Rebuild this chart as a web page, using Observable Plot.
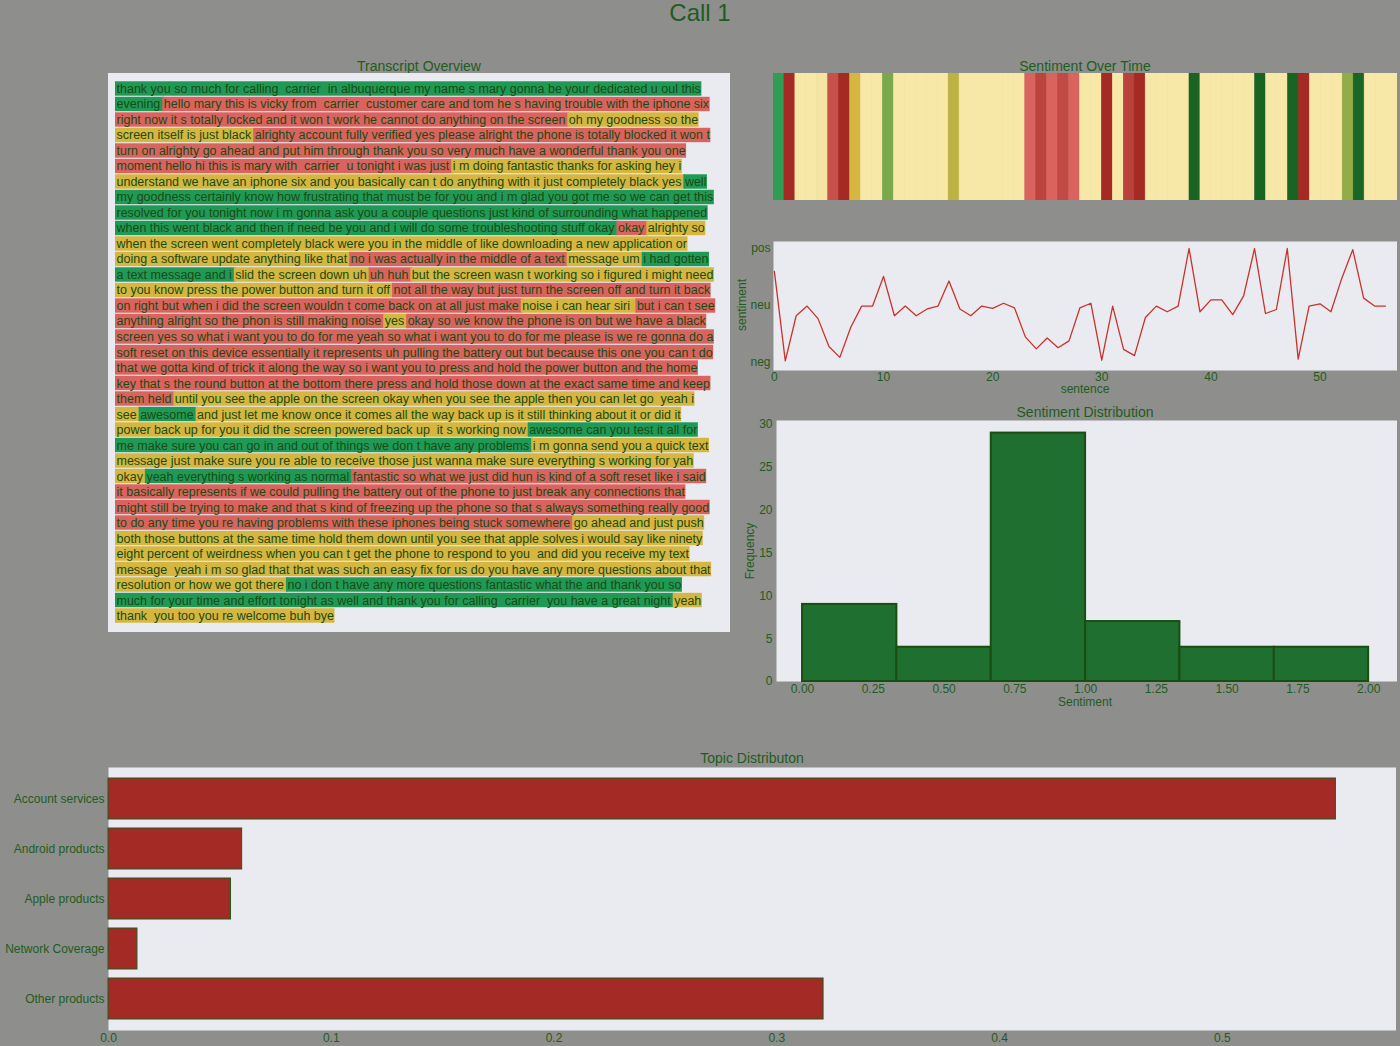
<!DOCTYPE html>
<html><head><meta charset="utf-8">
<script src="https://cdn.jsdelivr.net/npm/d3@7"></script>
<script src="https://cdn.jsdelivr.net/npm/@observablehq/plot@0.6"></script>
<style>
body{margin:0;background:#8e8e8c;width:1400px;height:1046px;position:relative;overflow:hidden;font-family:"Liberation Sans",Arial,sans-serif;}
.panel{position:absolute;}
.lbl{position:absolute;color:#1f5c1f;white-space:nowrap;transform:translate(-50%,-50%);font-family:"Liberation Sans",Arial,sans-serif;}
svg text{white-space:pre;}
</style></head><body>
<script>
// ---------------- data ----------------
const pageTitle = "Call 1";
const panelTitles = ["Transcript Overview", "Sentiment Over Time", "Sentiment Distribution", "Topic Distributon"];

// transcript lines: each line is a list of [sentiment, text] segments (g = positive, y = neutral, r = negative)
const transcriptLines = [
  [["g","thank you so much for calling  carrier  in albuquerque my name s mary gonna be your dedicated u oul this"]],
  [["g","evening "],["r","hello mary this is vicky from  carrier  customer care and tom he s having trouble with the iphone six"]],
  [["r","right now it s totally locked and it won t work he cannot do anything on the screen "],["y","oh my goodness so the"]],
  [["y","screen itself is just black "],["r","alrighty account fully verified yes please alright the phone is totally blocked it won t"]],
  [["r","turn on alrighty go ahead and put him through thank you so very much have a wonderful thank you one"]],
  [["r","moment hello hi this is mary with  carrier  u tonight i was just "],["y","i m doing fantastic thanks for asking hey i"]],
  [["y","understand we have an iphone six and you basically can t do anything with it just completely black yes "],["g","well"]],
  [["g","my goodness certainly know how frustrating that must be for you and i m glad you got me so we can get this"]],
  [["g","resolved for you tonight now i m gonna ask you a couple questions just kind of surrounding what happened"]],
  [["g","when this went black and then if need be you and i will do some troubleshooting stuff okay "],["r","okay "],["y","alrighty so"]],
  [["y","when the screen went completely black were you in the middle of like downloading a new application or"]],
  [["y","doing a software update anything like that "],["r","no i was actually in the middle of a text "],["y","message um "],["g","i had gotten"]],
  [["g","a text message and i "],["y","slid the screen down uh "],["r","uh huh "],["y","but the screen wasn t working so i figured i might need"]],
  [["y","to you know press the power button and turn it off "],["r","not all the way but just turn the screen off and turn it back"]],
  [["r","on right but when i did the screen wouldn t come back on at all just make "],["y","noise i can hear siri  "],["r","but i can t see"]],
  [["r","anything alright so the phon is still making noise "],["y","yes "],["r","okay so we know the phone is on but we have a black"]],
  [["r","screen yes so what i want you to do for me yeah so what i want you to do for me please is we re gonna do a"]],
  [["r","soft reset on this device essentially it represents uh pulling the battery out but because this one you can t do"]],
  [["r","that we gotta kind of trick it along the way so i want you to press and hold the power button and the home"]],
  [["r","key that s the round button at the bottom there press and hold those down at the exact same time and keep"]],
  [["r","them held "],["y","until you see the apple on the screen okay when you see the apple then you can let go  yeah i"]],
  [["y","see "],["g","awesome "],["y","and just let me know once it comes all the way back up is it still thinking about it or did it"]],
  [["y","power back up for you it did the screen powered back up  it s working now "],["g","awesome can you test it all for"]],
  [["g","me make sure you can go in and out of things we don t have any problems "],["y","i m gonna send you a quick text"]],
  [["y","message just make sure you re able to receive those just wanna make sure everything s working for yah"]],
  [["y","okay "],["g","yeah everything s working as normal "],["r","fantastic so what we just did hun is kind of a soft reset like i said"]],
  [["r","it basically represents if we could pulling the battery out of the phone to just break any connections that"]],
  [["r","might still be trying to make and that s kind of freezing up the phone so that s always something really good"]],
  [["r","to do any time you re having problems with these iphones being stuck somewhere "],["y","go ahead and just push"]],
  [["y","both those buttons at the same time hold them down until you see that apple solves i would say like ninety"]],
  [["y","eight percent of weirdness when you can t get the phone to respond to you  and did you receive my text"]],
  [["y","message  yeah i m so glad that that was such an easy fix for us do you have any more questions about that"]],
  [["y","resolution or how we got there "],["g","no i don t have any more questions fantastic what the and thank you so"]],
  [["g","much for your time and effort tonight as well and thank you for calling  carrier  you have a great night "],["y","yeah"]],
  [["y","thank  you too you re welcome buh bye"]]
];

// sentiment per sentence (0 = neg, 1 = neu, 2 = pos)
const sentimentValues = [1.6,0.03,0.82,0.99,0.77,0.28,0.09,0.62,0.99,0.99,
  1.51,0.82,0.99,0.82,0.94,0.99,1.43,0.94,0.82,0.99,
  0.95,1.04,0.96,0.45,0.24,0.43,0.26,0.38,0.96,1.04,
  0.04,0.99,0.23,0.12,0.79,0.99,0.89,0.99,2.0,0.89,
  1.10,1.10,0.84,1.17,2.0,0.86,0.93,2.0,0.06,0.99,
  1.03,0.89,1.48,1.98,1.13,0.99,0.99];
const sentimentTickLabels = ["neg","neu","pos"];
const sentenceTicks = [0,10,20,30,40,50];

// histogram of sentiment
const histEdges = [0, 0.3333, 0.6667, 1.0, 1.3333, 1.6667, 2.0];
const histCounts = [9, 4, 29, 7, 4, 4];
const histXTicks = [0,0.25,0.5,0.75,1,1.25,1.5,1.75,2];
const histYTicks = [0,5,10,15,20,25,30];

// topic distribution
const topics = ["Account services","Android products","Apple products","Network Coverage","Other products"];
const topicShares = [0.551, 0.060, 0.055, 0.013, 0.321];
const topicTicks = [0,0.1,0.2,0.3,0.4,0.5];

// ---------------- styles ----------------
const FONT = '"Liberation Sans", Arial, sans-serif';
const TXT = "#1f5c1f";
const PANEL = "#eaebf0";
const segColor = {g:"#1f9a56", r:"#d9645f", y:"#d4b640"};
const stripStops = [0,0.15,0.35,0.47,0.62,0.78,1.25,1.4,1.62,1.95];
const stripColors = ["#a52a24","#a52a24","#d9645f","#d9645f","#d4b640","#f8e8a8","#f8e8a8","#d4b640","#1f9a56","#1a6a2a"];

function place(node, left, top){
  const d = document.createElement("div");
  d.className = "panel"; d.style.left = left+"px"; d.style.top = top+"px";
  d.appendChild(node); document.body.appendChild(d);
}
function label(text, cx, cy, size, rotate){
  const d = document.createElement("div");
  d.className = "lbl"; d.textContent = text;
  d.style.left = cx+"px"; d.style.top = cy+"px"; d.style.fontSize = size+"px";
  if (rotate) d.style.transform = "translate(-50%,-50%) rotate(-90deg)";
  document.body.appendChild(d);
}

// titles
label(pageTitle, 700, 13, 24);
label(panelTitles[0], 419, 66, 14);
label(panelTitles[1], 1085, 66, 14);
label(panelTitles[2], 1085, 412, 14);
label(panelTitles[3], 752, 758, 14);

// ---------------- transcript ----------------
const FS = 12.5;
const ctx = document.createElement("canvas").getContext("2d");
ctx.font = `${FS}px "Liberation Sans"`;
const segs = [];
transcriptLines.forEach((line, i) => {
  let x = 0;
  line.forEach(([s, text]) => {
    const w = ctx.measureText(text).width;
    segs.push({line: i, s, text, x1: x, x2: x + w});
    x += w;
  });
});
place(Plot.plot({
  width: 622, height: 559, marginLeft: 8, marginRight: 0, marginTop: 7.2, marginBottom: 8.2,
  style: {background: PANEL, fontFamily: FONT},
  x: {domain: [0, 614], axis: null},
  y: {type: "band", domain: d3.range(transcriptLines.length), padding: 0.07, round: false, axis: null},
  marks: [
    Plot.barX(segs, {x1: d => d.x1 - 1, x2: d => d.x2 + 1, y: "line", fill: d => segColor[d.s]}),
    Plot.text(segs, {x: "x1", y: "line", text: "text", textAnchor: "start", fill: "#1b4a12", fontSize: FS, fontFamily: FONT})
  ]
}), 108, 73);

// ---------------- sentiment strip ----------------
place(Plot.plot({
  width: 624, height: 127, margin: 0,
  style: {background: "transparent"},
  x: {type: "band", domain: d3.range(sentimentValues.length), padding: 0, round: false, axis: null},
  color: {type: "linear", domain: stripStops, range: stripColors, interpolate: "rgb"},
  marks: [
    Plot.cell(sentimentValues, {x: (d, i) => i, fill: d => d, stroke: d => d, strokeWidth: 0.6, inset: 0})
  ]
}), 773, 73);

// ---------------- sentiment line ----------------
place(Plot.plot({
  width: 662, height: 164, marginLeft: 38, marginRight: 0, marginTop: 5, marginBottom: 30,
  style: {background: "transparent", fontFamily: FONT, fontSize: "12px", color: TXT},
  x: {domain: [-0.08, 57.1], ticks: sentenceTicks, tickSize: 0, tickPadding: 2, label: null},
  y: {domain: [-0.14, 2.123], ticks: [0,1,2], tickFormat: d => sentimentTickLabels[d], tickSize: 0, tickPadding: 3, label: null},
  marks: [
    Plot.frame({fill: PANEL, stroke: null}),
    Plot.line(sentimentValues, {x: (d, i) => i, y: d => d, stroke: "#c9322a", strokeWidth: 1.3})
  ]
}), 735, 236);
label("sentence", 1085, 389, 12);
label("sentiment", 742, 305, 12, true);

// ---------------- histogram ----------------
const histBins = histCounts.map((c, i) => ({x1: histEdges[i], x2: histEdges[i+1], count: c}));
place(Plot.plot({
  width: 657, height: 300, marginLeft: 36, marginRight: 0, marginTop: 5, marginBottom: 34,
  style: {background: "transparent", fontFamily: FONT, fontSize: "12px", color: TXT},
  x: {domain: [-0.092, 2.102], ticks: histXTicks, tickFormat: ".2f", tickSize: 0, tickPadding: 3, label: null},
  y: {domain: [0, 30.47], ticks: histYTicks, tickSize: 0, tickPadding: 4, label: null},
  marks: [
    Plot.frame({fill: PANEL, stroke: null}),
    Plot.rectY(histBins, {x1: "x1", x2: "x2", y: "count", fill: "#1f7030", stroke: "#1a4d12", strokeWidth: 2})
  ]
}), 740, 415);
label("Sentiment", 1085, 702, 12);
label("Frequency", 750, 551, 12, true);

// ---------------- topics ----------------
const topicData = topics.map((t, i) => ({topic: t, share: topicShares[i]}));
place(Plot.plot({
  width: 1396, height: 284, marginLeft: 108, marginRight: 0, marginTop: 5, marginBottom: 16,
  style: {background: "transparent", fontFamily: FONT, fontSize: "12px", color: TXT},
  x: {domain: [0, 0.5782], ticks: topicTicks, tickFormat: ".1f", tickSize: 0, tickPadding: 3, label: null},
  y: {domain: topics, paddingInner: 0.19, paddingOuter: 0.22, tickSize: 0, tickPadding: 4, label: null},
  marks: [
    Plot.frame({fill: PANEL, stroke: null}),
    Plot.barX(topicData, {x: "share", y: "topic", fill: "#a32a25", stroke: "#1f5c1f", strokeWidth: 1})
  ]
}), 0, 762);
</script>
</body></html>
